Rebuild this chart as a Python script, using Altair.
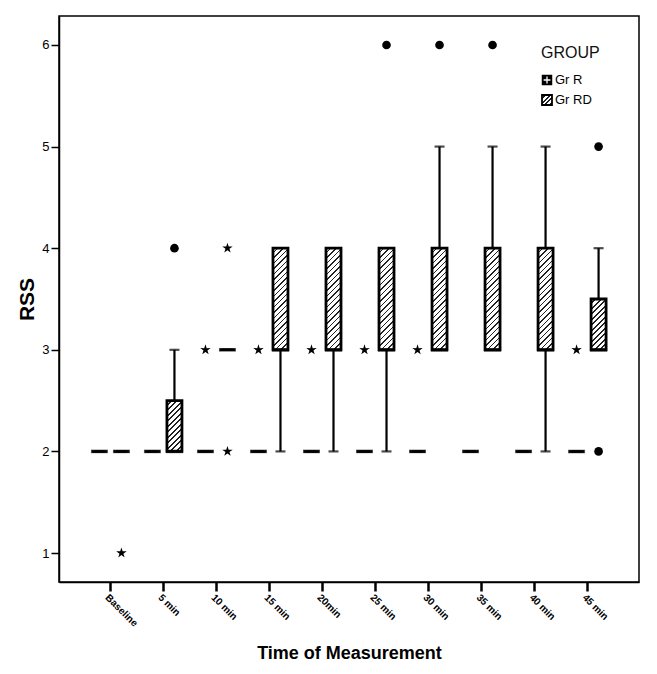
import math
import altair as alt
import pandas as pd

# ---------------- data ----------------
times = ["Baseline", "5 min", "10 min", "15 min", "20min", "25 min",
         "30 min", "35 min", "40 min", "45 min"]
groups = ["Gr R", "Gr RD"]

# five-number summaries (box: q1..q3, whiskers lo..hi)
grR_q1 = [2, 2, 2, 2, 2, 2, 2, 2, 2, 2]
grR_med = [2, 2, 2, 2, 2, 2, 2, 2, 2, 2]
grR_q3 = [2, 2, 2, 2, 2, 2, 2, 2, 2, 2]
grR_lo = [2, 2, 2, 2, 2, 2, 2, 2, 2, 2]
grR_hi = [2, 2, 2, 2, 2, 2, 2, 2, 2, 2]

grRD_q1 = [2, 2, 3, 3, 3, 3, 3, 3, 3, 3]
grRD_med = [2, 2, 3, 3, 3, 3, 3, 3, 3, 3]
grRD_q3 = [2, 2.5, 3, 4, 4, 4, 4, 4, 4, 3.5]
grRD_lo = [2, 2, 3, 2, 2, 2, 3, 3, 2, 3]
grRD_hi = [2, 3, 3, 4, 4, 4, 5, 5, 5, 4]

# outliers (filled circles)
out_time = ["5 min", "25 min", "30 min", "35 min", "45 min", "45 min"]
out_group = ["Gr RD", "Gr RD", "Gr RD", "Gr RD", "Gr RD", "Gr RD"]
out_value = [4, 6, 6, 6, 5, 2]

# extreme values (stars)
ext_time = ["Baseline", "10 min", "10 min", "10 min", "15 min", "20min",
            "25 min", "30 min", "45 min"]
ext_group = ["Gr RD", "Gr R", "Gr RD", "Gr RD", "Gr R", "Gr R", "Gr R",
             "Gr R", "Gr R"]
ext_value = [1, 3, 4, 2, 3, 3, 3, 3, 3]

legend_title = ["GROUP"]

# ---------------- tables ----------------
rows = []
for g, q1, med, q3, lo, hi in [
    ("Gr R", grR_q1, grR_med, grR_q3, grR_lo, grR_hi),
    ("Gr RD", grRD_q1, grRD_med, grRD_q3, grRD_lo, grRD_hi),
]:
    for i, t in enumerate(times):
        rows.append(dict(time=t, group=g, q1=q1[i], med=med[i], q3=q3[i],
                         lo=lo[i], hi=hi[i]))
box_df = pd.DataFrame(rows)
out_df = pd.DataFrame(dict(time=out_time, group=out_group, value=out_value))
ext_df = pd.DataFrame(dict(time=ext_time, group=ext_group, value=ext_value))

# ---------------- styling helpers ----------------
PW, PH = 580, 566
Y_DOM = [0.715, 6.285]
px_per_unit = PH / (Y_DOM[1] - Y_DOM[0])
BOX_W = 15
FONT = "Liberation Sans"


def hatch(w, h, period=5.5, frac=0.3):
    k = (w + h) / (w * w + h * h)
    pt = period / (w + h)
    stops = []
    t = 0.0
    while t < 1.0:
        a = min(t + pt * (1 - frac), 1.0)
        b = min(t + pt, 1.0)
        stops += [
            {"offset": round(t, 5), "color": "white"},
            {"offset": round(a, 5), "color": "white"},
            {"offset": round(a, 5), "color": "#222222"},
            {"offset": round(b, 5), "color": "#222222"},
        ]
        t += pt
    return {"gradient": "linear", "x1": 0, "y1": 0, "x2": w * k,
            "y2": h * k, "stops": stops}


star_pts = []
for i in range(10):
    r = 1.0 if i % 2 == 0 else 0.38
    a = math.radians(-90 + 36 * i)
    star_pts.append((r * math.cos(a), r * math.sin(a)))
STAR = "M" + "L".join(f"{x:.3f},{y:.3f}" for x, y in star_pts) + "Z"

xscale = alt.Scale(paddingOuter=0.47, paddingInner=0)
offscale = alt.Scale(paddingOuter=0.2045, paddingInner=0)
yscale = alt.Scale(domain=Y_DOM, nice=False, zero=False)

xaxis = alt.Axis(
    title="Time of Measurement", labelAngle=45, labelAlign="left",
    labelBaseline="top", labelFontSize=10, labelFontWeight="bold",
    labelPadding=1, tickSize=9, tickWidth=2.5, tickColor="black",
    domainColor="black", domainWidth=1.5, labelColor="black",
    titleFontSize=18, titleFontWeight="bold", titleY=76,
    titleBaseline="alphabetic", titleColor="black", grid=False,
)
yaxis = alt.Axis(
    values=[1, 2, 3, 4, 5, 6], format="d", tickSize=8, tickWidth=1.5,
    tickColor="black", domainColor="black", domainWidth=1.5,
    labelFontSize=13, labelColor="black", labelPadding=2,
    titleFontSize=21, titleFontWeight="bold", titleColor="black",
    titlePadding=4, grid=False,
)


def X():
    return alt.X("time:N", sort=times, scale=xscale, axis=xaxis)


def XO():
    return alt.XOffset("group:N", sort=groups, scale=offscale)


def Y(field):
    return alt.Y(field, type="quantitative", scale=yscale, axis=yaxis,
                 title="RSS")


base = alt.Chart(box_df)

whisk_lo = base.mark_rule(color="black", strokeWidth=2.2).encode(
    x=X(), xOffset=XO(), y=Y("lo"), y2="q1")
whisk_hi = base.mark_rule(color="black", strokeWidth=2.2).encode(
    x=X(), xOffset=XO(), y=Y("q3"), y2="hi")
cap_lo = base.mark_tick(color="black", size=10, thickness=2.2).encode(
    x=X(), xOffset=XO(), y=Y("lo"))
cap_hi = base.mark_tick(color="black", size=10, thickness=2.2).encode(
    x=X(), xOffset=XO(), y=Y("hi"))

boxes_flat = base.transform_filter("datum.q3 - datum.q1 == 0").mark_bar(
    size=BOX_W, fill="white", stroke="black", strokeWidth=2.5).encode(
    x=X(), xOffset=XO(), y=Y("q1"), y2="q3")
boxes_full = base.transform_filter("datum.q3 - datum.q1 == 1").mark_bar(
    size=BOX_W, fill=hatch(BOX_W, px_per_unit), stroke="black",
    strokeWidth=2.8).encode(x=X(), xOffset=XO(), y=Y("q1"), y2="q3")
boxes_half = base.transform_filter("datum.q3 - datum.q1 == 0.5").mark_bar(
    size=BOX_W, fill=hatch(BOX_W, px_per_unit * 0.5), stroke="black",
    strokeWidth=2.8).encode(x=X(), xOffset=XO(), y=Y("q1"), y2="q3")

medians = base.mark_tick(color="black", size=BOX_W + 2, thickness=3.5).encode(
    x=X(), xOffset=XO(), y=Y("med"))

outliers = alt.Chart(out_df).mark_point(
    shape="circle", filled=True, color="black", size=75, opacity=1).encode(
    x=X(), xOffset=XO(), y=Y("value"))
extremes = alt.Chart(ext_df).mark_point(
    shape=STAR, filled=True, color="black", size=120, opacity=1).encode(
    x=X(), xOffset=XO(), y=Y("value"))

# ---------------- legend (drawn as marks) ----------------
leg_title = alt.Chart(pd.DataFrame({"t": legend_title})).mark_text(
    align="left", baseline="alphabetic", fontSize=16, font=FONT,
    color="#111111").encode(text="t:N", x=alt.value(482), y=alt.value(42))

leg_r_data = pd.DataFrame({"t": [groups[0]]})
leg_rd_data = pd.DataFrame({"t": [groups[1]]})
leg_r_sq = alt.Chart(leg_r_data).mark_square(
    size=110, filled=True, color="black", opacity=1).encode(
    x=alt.value(488), y=alt.value(64))
leg_r_cross = alt.Chart(leg_r_data).mark_point(
    shape="M-0.65,0H0.65M0,-0.65V0.65", filled=False, stroke="white",
    strokeWidth=1.3, size=110, opacity=1).encode(
    x=alt.value(488), y=alt.value(64))
leg_rd_sq = alt.Chart(leg_rd_data).mark_square(
    size=100, fill=hatch(10, 10, period=4.5, frac=0.35), stroke="black",
    strokeWidth=1.8, opacity=1).encode(x=alt.value(488), y=alt.value(84))
leg_r_lab = alt.Chart(leg_r_data).mark_text(
    align="left", baseline="middle", fontSize=13, font=FONT,
    color="black").encode(text="t:N", x=alt.value(496), y=alt.value(64))
leg_rd_lab = alt.Chart(leg_rd_data).mark_text(
    align="left", baseline="middle", fontSize=13, font=FONT,
    color="black").encode(text="t:N", x=alt.value(496), y=alt.value(84))

chart = alt.layer(
    whisk_lo, whisk_hi, cap_lo, cap_hi,
    boxes_flat, boxes_full, boxes_half, medians,
    outliers, extremes,
    leg_title, leg_r_sq, leg_r_cross, leg_rd_sq, leg_r_lab, leg_rd_lab,
).properties(
    width=PW, height=PH,
    autosize=alt.AutoSizeParams(type="none"),
    padding={"left": 51, "top": 8, "right": 10, "bottom": 80},
).configure(
    font=FONT,
).configure_view(
    stroke="black", strokeWidth=1.5,
)

chart.save("out.html", embed_options={"renderer": "svg", "actions": False})
